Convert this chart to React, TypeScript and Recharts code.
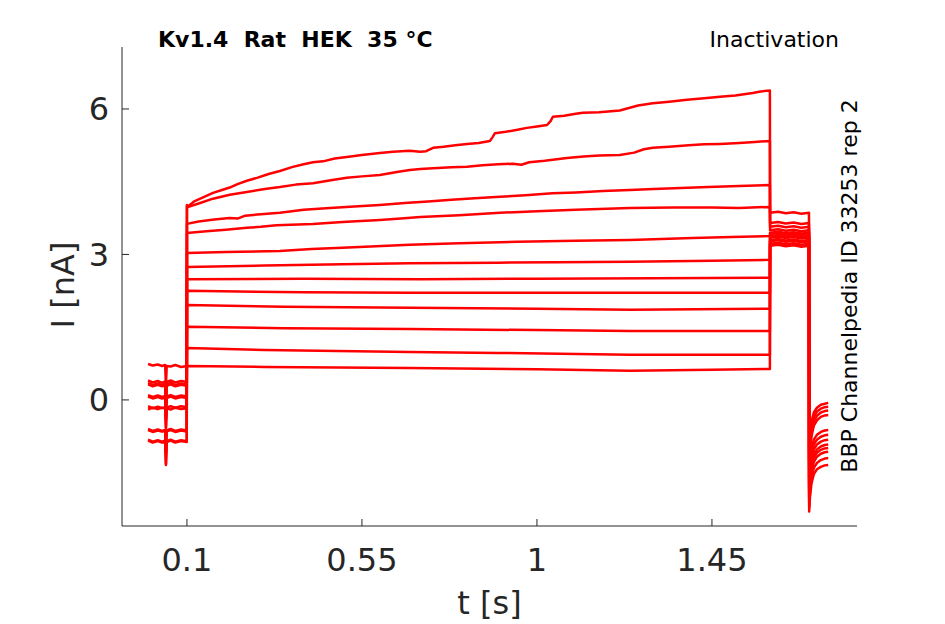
import React from 'react';
import { LineChart, Line, XAxis, YAxis } from 'recharts';

// Time ticks (s) and current ticks (nA)
const xTicks = [0.1, 0.55, 1, 1.45];
const yTicks = [0, 3, 6];

// Each sweep: [t (s), I (nA)]
const sweep01: [number, number][] = [
  [0, -0.84], [0.012, -0.88], [0.025, -0.85], [0.036, -0.88], [0.044, -0.86], [0.046, -1.32], [0.048, -0.87], [0.058, -0.84], [0.07, -0.88], [0.085, -0.85], [0.0995, -0.87],
  [0.1, 4.02], [0.104, 4.0], [0.12, 4.1], [0.14, 4.17], [0.167, 4.27], [0.19, 4.33], [0.21, 4.38], [0.23, 4.45], [0.254, 4.52], [0.28, 4.58], [0.31, 4.66], [0.339, 4.72], [0.37, 4.8], [0.4, 4.86], [0.424, 4.9], [0.45, 4.92], [0.48, 4.98], [0.511, 5.01], [0.55, 5.05], [0.596, 5.09], [0.63, 5.12], [0.673, 5.14], [0.7, 5.12], [0.715, 5.13], [0.733, 5.2], [0.76, 5.22], [0.79, 5.25], [0.82, 5.28], [0.85, 5.3], [0.879, 5.34], [0.886, 5.42], [0.892, 5.5], [0.92, 5.53], [0.95, 5.57], [0.974, 5.61], [1.0, 5.64], [1.026, 5.67], [1.035, 5.75], [1.041, 5.84], [1.07, 5.86], [1.1, 5.9], [1.118, 5.92], [1.16, 5.93], [1.213, 5.97], [1.26, 6.07], [1.298, 6.12], [1.34, 6.15], [1.386, 6.19], [1.43, 6.22], [1.471, 6.25], [1.51, 6.28], [1.555, 6.33], [1.575, 6.36], [1.599, 6.38],
  [1.5995, 3.86], [1.62, 3.88], [1.64, 3.85], [1.66, 3.87], [1.68, 3.84], [1.6995, 3.86],
  [1.7, -1.05], [1.702, -0.75], [1.706, -0.45], [1.712, -0.26], [1.72, -0.16], [1.73, -0.1], [1.74, -0.08], [1.749, -0.06],
];

const sweep02: [number, number][] = [
  [0, -0.62], [0.012, -0.66], [0.025, -0.63], [0.036, -0.65], [0.044, -0.64], [0.046, -1.08], [0.048, -0.65], [0.058, -0.62], [0.07, -0.66], [0.085, -0.63], [0.0995, -0.65],
  [0.1, 4.0], [0.104, 3.98], [0.13, 4.05], [0.167, 4.15], [0.21, 4.23], [0.254, 4.29], [0.3, 4.35], [0.339, 4.39], [0.38, 4.44], [0.424, 4.47], [0.47, 4.53], [0.511, 4.58], [0.55, 4.61], [0.596, 4.64], [0.64, 4.7], [0.673, 4.74], [0.7, 4.76], [0.733, 4.78], [0.78, 4.8], [0.82, 4.81], [0.86, 4.84], [0.9, 4.86], [0.938, 4.87], [0.96, 4.85], [0.98, 4.9], [1.02, 4.93], [1.077, 4.99], [1.12, 5.02], [1.16, 5.04], [1.213, 5.05], [1.25, 5.1], [1.275, 5.17], [1.298, 5.2], [1.34, 5.22], [1.39, 5.25], [1.43, 5.27], [1.471, 5.28], [1.52, 5.3], [1.56, 5.32], [1.599, 5.34],
  [1.5995, 3.65], [1.62, 3.67], [1.64, 3.64], [1.66, 3.66], [1.68, 3.63], [1.6995, 3.65],
  [1.7, -1.2], [1.702, -0.88], [1.706, -0.56], [1.712, -0.35], [1.72, -0.24], [1.73, -0.18], [1.74, -0.15], [1.749, -0.14],
];

const sweep03: [number, number][] = [
  [0, 0.4], [0.012, 0.36], [0.025, 0.39], [0.036, 0.35], [0.044, 0.38], [0.046, -0.05], [0.048, 0.37], [0.058, 0.4], [0.07, 0.36], [0.085, 0.39], [0.0995, 0.37],
  [0.1, 3.63], [0.13, 3.68], [0.17, 3.72], [0.21, 3.75], [0.23, 3.74], [0.25, 3.8], [0.29, 3.83], [0.339, 3.86], [0.4, 3.92], [0.468, 3.96], [0.53, 3.99], [0.596, 4.02], [0.66, 4.06], [0.72, 4.09], [0.78, 4.13], [0.84, 4.16], [0.905, 4.19], [0.97, 4.22], [1.04, 4.26], [1.1, 4.28], [1.17, 4.31], [1.239, 4.33], [1.3, 4.35], [1.37, 4.37], [1.44, 4.39], [1.52, 4.41], [1.599, 4.43],
  [1.5995, 3.57], [1.62, 3.59], [1.64, 3.56], [1.66, 3.58], [1.68, 3.55], [1.6995, 3.57],
  [1.7, -1.3], [1.702, -0.98], [1.706, -0.65], [1.712, -0.44], [1.72, -0.33], [1.73, -0.26], [1.74, -0.23], [1.749, -0.22],
];

const sweep04: [number, number][] = [
  [0, -0.82], [0.012, -0.86], [0.025, -0.83], [0.036, -0.86], [0.044, -0.84], [0.046, -1.34], [0.048, -0.85], [0.058, -0.82], [0.07, -0.86], [0.085, -0.83], [0.0995, -0.85],
  [0.1, 3.44], [0.15, 3.48], [0.2, 3.51], [0.254, 3.55], [0.29, 3.57], [0.33, 3.6], [0.424, 3.63], [0.5, 3.67], [0.596, 3.71], [0.65, 3.74], [0.7, 3.77], [0.8, 3.81], [0.905, 3.86], [1.0, 3.89], [1.1, 3.92], [1.239, 3.96], [1.35, 3.97], [1.45, 3.97], [1.52, 3.96], [1.599, 3.98],
  [1.5995, 3.5], [1.62, 3.52], [1.64, 3.49], [1.66, 3.51], [1.68, 3.48], [1.6995, 3.5],
  [1.7, -1.4], [1.702, -1.07], [1.706, -0.75], [1.712, -0.53], [1.72, -0.42], [1.73, -0.35], [1.74, -0.32], [1.749, -0.31],
];

const sweep05: [number, number][] = [
  [0, 0.35], [0.012, 0.31], [0.025, 0.34], [0.036, 0.3], [0.044, 0.33], [0.046, -0.1], [0.048, 0.32], [0.058, 0.35], [0.07, 0.31], [0.085, 0.34], [0.0995, 0.32],
  [0.1, 3.03], [0.2, 3.05], [0.339, 3.07], [0.42, 3.11], [0.5, 3.14], [0.673, 3.2], [0.8, 3.23], [0.95, 3.26], [1.1, 3.28], [1.239, 3.3], [1.4, 3.34], [1.5, 3.36], [1.599, 3.38],
  [1.5995, 3.45], [1.62, 3.47], [1.64, 3.44], [1.66, 3.46], [1.68, 3.43], [1.6995, 3.45],
  [1.7, -1.6], [1.702, -1.31], [1.706, -1.01], [1.712, -0.82], [1.72, -0.72], [1.73, -0.66], [1.74, -0.63], [1.749, -0.62],
];

const sweep06: [number, number][] = [
  [0, -0.6], [0.012, -0.64], [0.025, -0.61], [0.036, -0.64], [0.044, -0.62], [0.046, -1.1], [0.048, -0.63], [0.058, -0.6], [0.07, -0.64], [0.085, -0.61], [0.0995, -0.63],
  [0.1, 2.74], [0.3, 2.77], [0.5, 2.8], [0.673, 2.82], [0.9, 2.83], [1.05, 2.84], [1.239, 2.85], [1.45, 2.87], [1.599, 2.89],
  [1.5995, 3.42], [1.62, 3.44], [1.64, 3.41], [1.66, 3.43], [1.68, 3.4], [1.6995, 3.42],
  [1.7, -1.7], [1.702, -1.41], [1.706, -1.11], [1.712, -0.92], [1.72, -0.82], [1.73, -0.76], [1.74, -0.73], [1.749, -0.72],
];

const sweep07: [number, number][] = [
  [0, 0.07], [0.012, 0.03], [0.025, 0.06], [0.036, 0.03], [0.044, 0.05], [0.046, -0.4], [0.048, 0.04], [0.058, 0.07], [0.07, 0.03], [0.085, 0.06], [0.0995, 0.04],
  [0.1, 2.49], [0.4, 2.5], [0.7, 2.49], [1.0, 2.5], [1.3, 2.51], [1.599, 2.52],
  [1.5995, 3.38], [1.62, 3.4], [1.64, 3.37], [1.66, 3.39], [1.68, 3.36], [1.6995, 3.38],
  [1.7, -1.8], [1.702, -1.51], [1.706, -1.21], [1.712, -1.02], [1.72, -0.92], [1.73, -0.86], [1.74, -0.83], [1.749, -0.82],
];

const sweep08: [number, number][] = [
  [0, -0.13], [0.012, -0.17], [0.025, -0.14], [0.036, -0.17], [0.044, -0.15], [0.046, -0.57], [0.048, -0.16], [0.058, -0.13], [0.07, -0.16], [0.085, -0.13], [0.0995, -0.15],
  [0.1, 2.25], [0.4, 2.22], [0.673, 2.21], [1.0, 2.21], [1.3, 2.21], [1.599, 2.21],
  [1.5995, 3.35], [1.62, 3.37], [1.64, 3.34], [1.66, 3.36], [1.68, 3.33], [1.6995, 3.35],
  [1.7, -1.9], [1.702, -1.61], [1.706, -1.31], [1.712, -1.12], [1.72, -1.02], [1.73, -0.96], [1.74, -0.93], [1.749, -0.92],
];

const sweep09: [number, number][] = [
  [0, 0.32], [0.012, 0.28], [0.025, 0.31], [0.036, 0.28], [0.044, 0.3], [0.046, -0.12], [0.048, 0.29], [0.058, 0.32], [0.07, 0.28], [0.085, 0.31], [0.0995, 0.29],
  [0.1, 1.96], [0.35, 1.92], [0.673, 1.9], [1.0, 1.88], [1.239, 1.86], [1.599, 1.88],
  [1.5995, 3.3], [1.62, 3.32], [1.64, 3.29], [1.66, 3.31], [1.68, 3.28], [1.6995, 3.3],
  [1.7, -2.0], [1.702, -1.7], [1.706, -1.39], [1.712, -1.19], [1.72, -1.09], [1.73, -1.03], [1.74, -1.0], [1.749, -0.99],
];

const sweep10: [number, number][] = [
  [0, 0.1], [0.012, 0.06], [0.025, 0.09], [0.036, 0.06], [0.044, 0.08], [0.046, -0.35], [0.048, 0.07], [0.058, 0.1], [0.07, 0.06], [0.085, 0.09], [0.0995, 0.07],
  [0.1, 1.51], [0.35, 1.48], [0.673, 1.46], [1.0, 1.44], [1.239, 1.42], [1.599, 1.42],
  [1.5995, 3.27], [1.62, 3.29], [1.64, 3.26], [1.66, 3.28], [1.68, 3.25], [1.6995, 3.27],
  [1.7, -2.1], [1.702, -1.79], [1.706, -1.48], [1.712, -1.28], [1.72, -1.17], [1.73, -1.11], [1.74, -1.08], [1.749, -1.07],
];

const sweep11: [number, number][] = [
  [0, -0.2], [0.012, -0.16], [0.025, -0.19], [0.036, -0.16], [0.044, -0.18], [0.046, -0.58], [0.048, -0.17], [0.058, -0.2], [0.07, -0.16], [0.085, -0.19], [0.0995, -0.17],
  [0.1, 1.07], [0.3, 1.03], [0.673, 0.99], [0.9, 0.97], [1.239, 0.93], [1.599, 0.93],
  [1.5995, 3.22], [1.62, 3.24], [1.64, 3.21], [1.66, 3.23], [1.68, 3.2], [1.6995, 3.22],
  [1.7, -2.2], [1.702, -1.9], [1.706, -1.6], [1.712, -1.4], [1.72, -1.3], [1.73, -1.24], [1.74, -1.21], [1.749, -1.2],
];

const sweep12: [number, number][] = [
  [0, 0.74], [0.012, 0.71], [0.025, 0.73], [0.036, 0.7], [0.044, 0.72], [0.046, 0.3], [0.048, 0.7], [0.058, 0.69], [0.07, 0.72], [0.085, 0.68], [0.0995, 0.7],
  [0.1, 0.7], [0.3, 0.68], [0.673, 0.66], [1.0, 0.63], [1.239, 0.6], [1.45, 0.62], [1.599, 0.64],
  [1.5995, 3.18], [1.62, 3.2], [1.64, 3.17], [1.66, 3.19], [1.68, 3.16], [1.6995, 3.18],
  [1.7, -2.3], [1.702, -2.01], [1.706, -1.72], [1.712, -1.53], [1.72, -1.43], [1.73, -1.38], [1.74, -1.35], [1.749, -1.34],
];

const sweeps = [sweep01, sweep02, sweep03, sweep04, sweep05, sweep06, sweep07, sweep08, sweep09, sweep10, sweep11, sweep12];

const FONT = '"DejaVu Sans", sans-serif';
const AXIS = '#262626';

export default function App() {
  return (
    <div style={{ position: 'absolute', left: 0, top: 0, width: 945, height: 624, background: '#fff' }}>
      <LineChart width={945} height={624} margin={{ top: 47, right: 88, bottom: 38, left: 0 }}>
        <XAxis
          type="number"
          dataKey="t"
          domain={[-0.067, 1.823]}
          ticks={xTicks}
          interval={0}
          allowDataOverflow
          height={60}
          tickSize={-7}
          tickMargin={29}
          axisLine={{ stroke: AXIS, strokeWidth: 1 }}
          tickLine={{ stroke: AXIS, strokeWidth: 1 }}
          tick={{ fill: AXIS, fontSize: 32, fontFamily: FONT }}
        />
        <YAxis
          type="number"
          domain={[-2.6, 7.278]}
          ticks={yTicks}
          interval={0}
          allowDataOverflow
          width={122}
          tickSize={-7}
          tickMargin={20}
          axisLine={{ stroke: AXIS, strokeWidth: 1 }}
          tickLine={{ stroke: AXIS, strokeWidth: 1 }}
          tick={{ fill: AXIS, fontSize: 32, fontFamily: FONT }}
        />
        {sweeps.map((s, k) => (
          <Line
            key={k}
            data={s.map(([t, i]) => ({ t, i }))}
            dataKey="i"
            type="linear"
            stroke="#ff0000"
            strokeWidth={2.5}
            strokeLinejoin="round"
            dot={false}
            activeDot={false}
            isAnimationActive={false}
          />
        ))}
      </LineChart>
      <svg width={945} height={624} style={{ position: 'absolute', left: 0, top: 0, pointerEvents: 'none' }}>
        <text x={158} y={47} fontFamily={FONT} fontSize={22} fontWeight="bold" fill="#000" style={{ whiteSpace: 'pre' }}>
          {'Kv1.4  Rat  HEK  35 °C'}
        </text>
        <text x={839} y={47} fontFamily={FONT} fontSize={22} fill="#000" textAnchor="end">
          Inactivation
        </text>
        <text
          x={0}
          y={0}
          transform="translate(857 286) rotate(-90)"
          fontFamily={FONT}
          fontSize={22}
          fill="#000"
          textAnchor="middle"
        >
          BBP Channelpedia ID 33253 rep 2
        </text>
        <text
          x={0}
          y={0}
          transform="translate(74 285) rotate(-90)"
          fontFamily={FONT}
          fontSize={32}
          fill={AXIS}
          textAnchor="middle"
        >
          I [nA]
        </text>
        <text x={489.5} y={614} fontFamily={FONT} fontSize={32} fill={AXIS} textAnchor="middle">
          t [s]
        </text>
      </svg>
    </div>
  );
}
